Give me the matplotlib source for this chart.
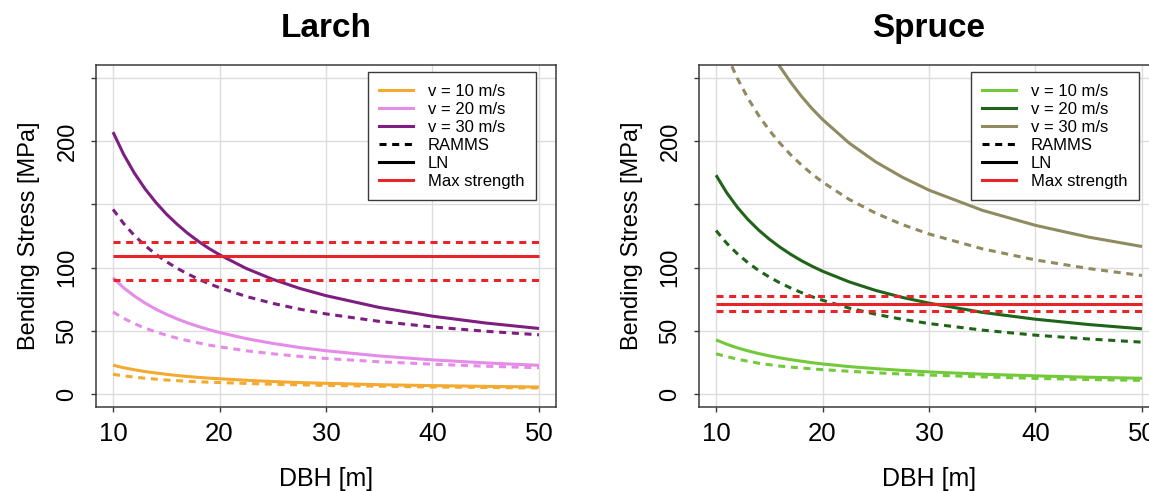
import matplotlib.pyplot as plt
from matplotlib.lines import Line2D

plt.rcParams['font.family'] = ['Liberation Sans', 'DejaVu Sans']

### 数据：DBH [m] 与弯曲应力 [MPa]
dbh = [10, 11, 12, 13, 14, 15, 16, 17, 18, 19, 20, 22.5, 25, 27.5, 30, 35, 40, 45, 50]

# Larch
larch_ln_v10 = [23.0, 21.0, 19.4, 18.0, 16.9, 15.8, 14.9, 14.1, 13.4, 12.8, 12.3,
                11.1, 10.1, 9.3, 8.7, 7.6, 6.9, 6.3, 5.8]
larch_ln_v20 = [92.0, 84.1, 77.6, 72.1, 67.3, 63.2, 59.6, 56.4, 53.6, 51.1, 48.8,
                44.0, 40.2, 37.0, 34.4, 30.3, 27.2, 24.8, 22.9]
larch_ln_v30 = [207.0, 189.4, 174.7, 162.3, 151.7, 142.4, 134.4, 127.2, 120.9, 115.2, 110.2,
                99.4, 90.8, 83.7, 77.9, 68.6, 61.7, 56.3, 52.0]
larch_ramms_v10 = [15.8, 14.6, 13.6, 12.7, 12.0, 11.3, 10.8, 10.3, 9.9, 9.6, 9.3,
                   8.6, 8.0, 7.5, 7.1, 6.4, 5.8, 5.4, 5.0]
larch_ramms_v20 = [65.0, 60.0, 55.8, 52.3, 49.3, 46.7, 44.4, 42.4, 40.6, 38.9, 37.5,
                   34.4, 32.0, 30.0, 28.3, 25.7, 23.8, 22.2, 21.0]
larch_ramms_v30 = [146.0, 134.8, 125.4, 117.5, 110.7, 104.8, 99.6, 95.1, 91.0, 87.4, 84.2,
                   77.3, 71.8, 67.3, 63.5, 57.6, 53.2, 49.8, 47.0]
larch_strength = 109.0
larch_strength_lo = 90.0
larch_strength_hi = 120.0

# Spruce
spruce_ln_v10 = [43.0, 39.6, 36.7, 34.3, 32.2, 30.4, 28.8, 27.4, 26.2, 25.0, 24.0,
                 21.9, 20.3, 18.9, 17.7, 15.9, 14.6, 13.5, 12.7]
spruce_ln_v20 = [173.0, 159.2, 147.7, 138.0, 129.7, 122.5, 116.2, 110.6, 105.6, 101.2, 97.2,
                 88.8, 82.0, 76.5, 72.0, 64.7, 59.3, 55.1, 51.7]
spruce_ramms_v10 = [32.0, 29.8, 27.8, 26.1, 24.6, 23.4, 22.3, 21.5, 20.8, 20.1, 19.5,
                    18.2, 17.0, 16.0, 15.2, 13.8, 12.6, 11.7, 11.0]
spruce_ramms_v20 = [129.3, 119.3, 111.0, 103.9, 97.8, 92.6, 88.0, 84.0, 80.4, 77.1, 74.3,
                    68.1, 63.2, 59.2, 55.9, 50.7, 46.7, 43.7, 41.2]
# v = 30 m/s 在小径级处超出坐标范围
dbh_spruce_ln_v30 = [15, 16, 17, 18, 19, 20, 22.5, 25, 27.5, 30, 35, 40, 45, 50]
spruce_ln_v30 = [272.7, 258.7, 246.5, 235.5, 225.7, 217.0, 198.4, 183.5, 171.4, 161.2,
                 145.3, 133.4, 124.1, 116.7]
dbh_spruce_ramms_v30 = [11, 12, 13, 14, 15, 16, 17, 18, 19, 20, 22.5, 25, 27.5, 30, 35, 40, 45, 50]
spruce_ramms_v30 = [268.1, 249.5, 233.7, 220.2, 208.5, 198.3, 189.2, 181.2, 174.0, 167.6,
                    153.9, 143.0, 134.0, 126.6, 114.9, 106.1, 99.3, 93.8]
spruce_strength = 71.5
spruce_strength_lo = 65.5
spruce_strength_hi = 77.5

speeds = ['v = 10 m/s', 'v = 20 m/s', 'v = 30 m/s']
larch_colors = ['#F4AA30', '#E58BE8', '#7D1E80']
spruce_colors = ['#72C93A', '#1F6418', '#8F8A5F']
red = '#E8232A'

LW = 2.2
DASH = (0, (2.3, 1.85))


def draw_panel(ax, title, ln_series, ramms_series, colors, s_mid, s_lo, s_hi):
    '''
    绘制一个树种的弯曲应力曲线
    '''
    for (x, y), c in zip(ln_series, colors):
        ax.plot(x, y, color=c, lw=LW, solid_capstyle='butt', solid_joinstyle='round')
    for (x, y), c in zip(ramms_series, colors):
        ax.plot(x, y, color=c, lw=LW, linestyle=DASH)

    ax.hlines(s_mid, dbh[0], dbh[-1], color=red, lw=LW)
    ax.hlines([s_lo, s_hi], dbh[0], dbh[-1], color=red, lw=LW, linestyle=DASH)

    ax.set_xlim(8.4, 51.6)
    ax.set_ylim(-10, 260)
    ax.set_xticks([10, 20, 30, 40, 50])
    ax.set_yticks([0, 50, 100, 150, 200, 250])
    ax.set_yticklabels(['0', '50', '100', '', '200', ''])
    ax.grid(True, color='#DCDCDC', lw=1.0)
    ax.set_axisbelow(True)
    for sp in ax.spines.values():
        sp.set_color('#3A3A3A')
        sp.set_linewidth(1.1)
    ax.tick_params(axis='both', direction='out', length=3.6, width=1.0, color='#3A3A3A')
    ax.tick_params(axis='x', pad=7, labelsize=18.5)
    ax.tick_params(axis='y', pad=9, labelsize=17, labelrotation=90)
    for lab in ax.get_yticklabels():
        lab.set_verticalalignment('center')

    ax.set_title(title, fontsize=24, fontweight='bold', pad=20)
    ax.set_xlabel('DBH [m]', fontsize=18)
    ax.set_ylabel('Bending Stress [MPa]', fontsize=17)
    ax.xaxis.set_label_coords(0.5, -0.175)
    ax.yaxis.set_label_coords(-0.122, 0.5)

    handles = [Line2D([], [], color=c, lw=LW) for c in colors]
    handles += [Line2D([], [], color='black', lw=LW, linestyle=DASH),
                Line2D([], [], color='black', lw=LW),
                Line2D([], [], color=red, lw=LW)]
    labels = speeds + ['RAMMS', 'LN', 'Max strength']
    leg = ax.legend(handles, labels, loc='upper right',
                    bbox_to_anchor=(0.9565, 0.9795), borderaxespad=0,
                    fontsize=12, labelspacing=0.18, handlelength=2.0,
                    handletextpad=0.9, borderpad=0.7,
                    fancybox=False, framealpha=1.0, edgecolor='#3A3A3A')
    leg.get_frame().set_linewidth(1.0)


fig = plt.figure(figsize=(11.49, 4.91), dpi=100)
ax1 = fig.add_axes([96 / 1149, 84 / 491, 460 / 1149, 342 / 491])
ax2 = fig.add_axes([699 / 1149, 84 / 491, 460 / 1149, 342 / 491])

draw_panel(ax1, 'Larch',
           [(dbh, larch_ln_v10), (dbh, larch_ln_v20), (dbh, larch_ln_v30)],
           [(dbh, larch_ramms_v10), (dbh, larch_ramms_v20), (dbh, larch_ramms_v30)],
           larch_colors, larch_strength, larch_strength_lo, larch_strength_hi)
draw_panel(ax2, 'Spruce',
           [(dbh, spruce_ln_v10), (dbh, spruce_ln_v20), (dbh_spruce_ln_v30, spruce_ln_v30)],
           [(dbh, spruce_ramms_v10), (dbh, spruce_ramms_v20), (dbh_spruce_ramms_v30, spruce_ramms_v30)],
           spruce_colors, spruce_strength, spruce_strength_lo, spruce_strength_hi)

fig.savefig('out.png', dpi=100)
